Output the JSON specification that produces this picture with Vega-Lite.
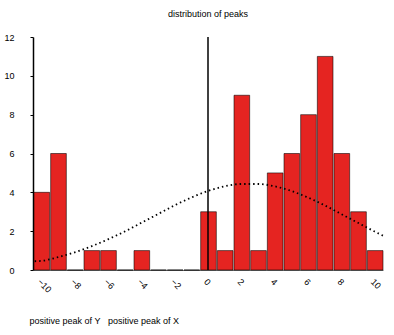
{
  "$schema": "https://vega.github.io/schema/vega-lite/v6.json",
  "width": 350,
  "height": 233,
  "autosize": {"type": "none"},
  "padding": {"left": 33, "top": 37, "right": 11, "bottom": 65},
  "title": {"text": "distribution of peaks", "fontSize": 9, "font": "Liberation Sans", "fontWeight": "normal", "color": "#000", "offset": 14},
  "config": {"view": {"stroke": null}, "font": "Liberation Sans", "axis": {"labelOverlap": false, "labelFontSize": 9, "labelColor": "#000", "grid": false}},
  "datasets": {
    "bins": [
      {"lo": -10.5, "hi": -9.5, "count": 4},
      {"lo": -9.5, "hi": -8.5, "count": 6},
      {"lo": -8.5, "hi": -7.5, "count": 0},
      {"lo": -7.5, "hi": -6.5, "count": 1},
      {"lo": -6.5, "hi": -5.5, "count": 1},
      {"lo": -5.5, "hi": -4.5, "count": 0},
      {"lo": -4.5, "hi": -3.5, "count": 1},
      {"lo": -3.5, "hi": -2.5, "count": 0},
      {"lo": -2.5, "hi": -1.5, "count": 0},
      {"lo": -1.5, "hi": -0.5, "count": 0},
      {"lo": -0.5, "hi": 0.5, "count": 3},
      {"lo": 0.5, "hi": 1.5, "count": 1},
      {"lo": 1.5, "hi": 2.5, "count": 9},
      {"lo": 2.5, "hi": 3.5, "count": 1},
      {"lo": 3.5, "hi": 4.5, "count": 5},
      {"lo": 4.5, "hi": 5.5, "count": 6},
      {"lo": 5.5, "hi": 6.5, "count": 8},
      {"lo": 6.5, "hi": 7.5, "count": 11},
      {"lo": 7.5, "hi": 8.5, "count": 6},
      {"lo": 8.5, "hi": 9.5, "count": 3},
      {"lo": 9.5, "hi": 10.5, "count": 1}
    ],
    "curve": [
      {"x": -10.4, "y": 0.45},
      {"x": -10, "y": 0.47},
      {"x": -9, "y": 0.66},
      {"x": -8, "y": 0.91},
      {"x": -7, "y": 1.22},
      {"x": -6, "y": 1.58},
      {"x": -5, "y": 1.98},
      {"x": -4, "y": 2.43},
      {"x": -3, "y": 2.88},
      {"x": -2, "y": 3.33},
      {"x": -1, "y": 3.73},
      {"x": 0, "y": 4.07},
      {"x": 1, "y": 4.31},
      {"x": 2, "y": 4.43},
      {"x": 3, "y": 4.43},
      {"x": 4, "y": 4.31},
      {"x": 5, "y": 4.07},
      {"x": 6, "y": 3.73},
      {"x": 7, "y": 3.33},
      {"x": 8, "y": 2.88},
      {"x": 9, "y": 2.43},
      {"x": 10, "y": 1.98},
      {"x": 10.5, "y": 1.77}
    ],
    "ref": [{"x": 0}]
  },
  "layer": [
    {
      "data": {"name": "bins"},
      "mark": {"type": "bar", "color": "#e52421", "stroke": "#000", "strokeWidth": 0.7, "strokeOpacity": 0.8},
      "encoding": {
        "x": {"field": "lo", "type": "quantitative", "bin": "binned",
              "scale": {"domain": [-10.5, 10.5], "nice": false, "zero": false},
              "axis": {"values": [-10, -8, -6, -4, -2, 0, 2, 4, 6, 8, 10], "labelOverlap": false, "labelAngle": 45, "domainColor": "#666", "ticks": false, "labelPadding": 7,
                       "title": "positive peak of Y\u00a0\u00a0\u00a0positive peak of X", "titleFontSize": 9, "titleFontWeight": "normal", "titleAnchor": "start", "titlePadding": 22, "titleColor": "#000", "titleX": -4}},
        "x2": {"field": "hi"},
        "y": {"field": "count", "type": "quantitative",
              "scale": {"domain": [0, 12], "nice": false},
              "axis": {"values": [0, 2, 4, 6, 8, 10, 12], "labelOverlap": false, "title": null, "domainColor": "#000", "domainWidth": 1.5, "tickColor": "#000", "tickSize": 3, "labelPadding": 16}}
      }
    },
    {
      "data": {"name": "ref"},
      "mark": {"type": "rule", "color": "#000", "strokeWidth": 1.5},
      "encoding": {"x": {"field": "x", "type": "quantitative",
              "axis": {"values": [-10, -8, -6, -4, -2, 0, 2, 4, 6, 8, 10], "labelOverlap": false, "labelAngle": 45, "domainColor": "#666", "ticks": false, "labelPadding": 7,
                       "title": "positive peak of Y\u00a0\u00a0\u00a0positive peak of X", "titleFontSize": 9, "titleFontWeight": "normal", "titleAnchor": "start", "titlePadding": 22, "titleColor": "#000", "titleX": -4}}}
    },
    {
      "data": {"name": "curve"},
      "mark": {"type": "line", "color": "#000", "strokeWidth": 1.8, "strokeDash": [1.5, 3], "interpolate": "monotone"},
      "encoding": {
        "x": {"field": "x", "type": "quantitative",
              "axis": {"values": [-10, -8, -6, -4, -2, 0, 2, 4, 6, 8, 10], "labelOverlap": false, "labelAngle": 45, "domainColor": "#666", "ticks": false, "labelPadding": 7,
                       "title": "positive peak of Y\u00a0\u00a0\u00a0positive peak of X", "titleFontSize": 9, "titleFontWeight": "normal", "titleAnchor": "start", "titlePadding": 22, "titleColor": "#000", "titleX": -4}},
        "y": {"field": "y", "type": "quantitative",
              "axis": {"values": [0, 2, 4, 6, 8, 10, 12], "labelOverlap": false, "title": null, "domainColor": "#000", "domainWidth": 1.5, "tickColor": "#000", "tickSize": 3, "labelPadding": 16}}
      }
    }
  ]
}
